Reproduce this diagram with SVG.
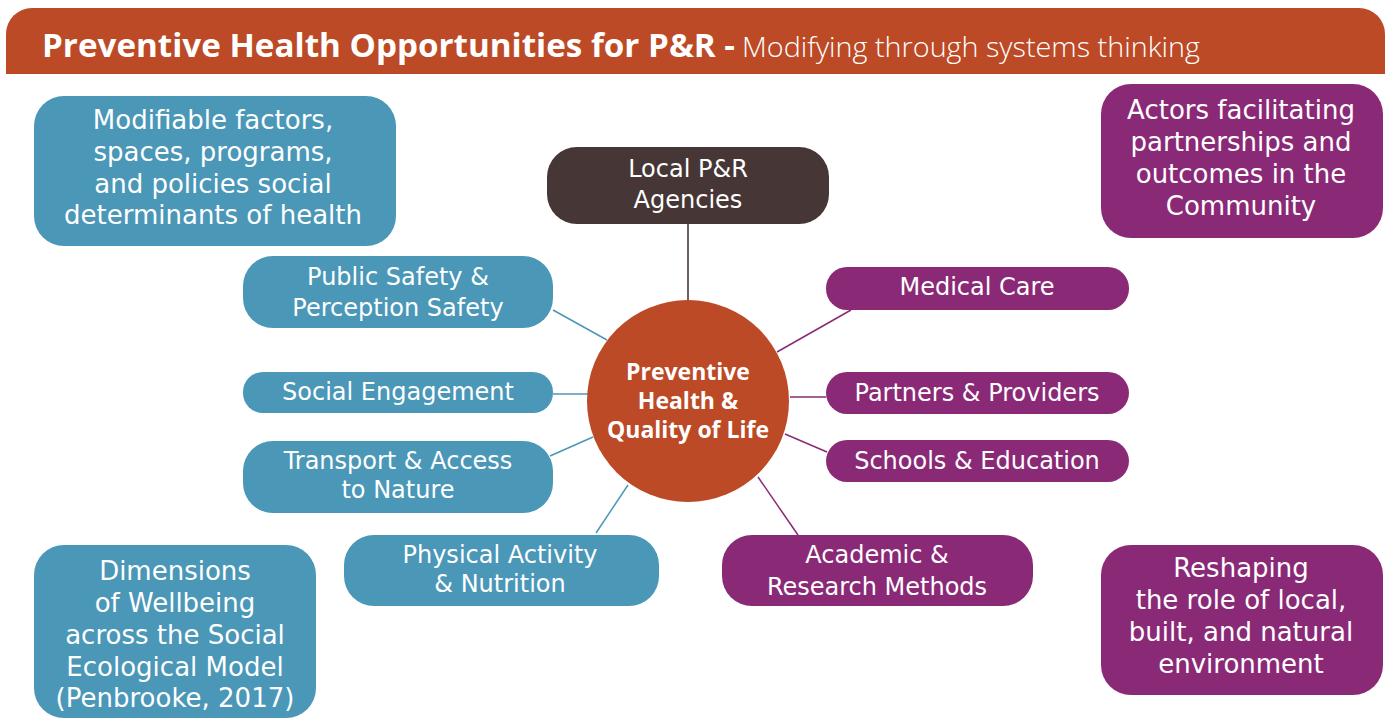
<svg xmlns="http://www.w3.org/2000/svg" width="1389" height="720" viewBox="0 0 1389 720">
<style>
.blue{fill:#4A97B8}
.purple{fill:#8A2A77}
.t{font-family:"DejaVu Sans","Liberation Sans",sans-serif;fill:#fff;text-anchor:middle;font-size:24px}
.big{font-size:26px}
.ctr{font-family:"Open Sans","Liberation Sans",sans-serif;font-weight:bold;fill:#fff;text-anchor:middle;font-size:23px}
.cb{stroke:#4A97B8;stroke-width:1.5;fill:none}
.cp{stroke:#8A2A77;stroke-width:1.5;fill:none}
.cd{stroke:#6E6060;stroke-width:2;fill:none}
</style>
<rect width="1389" height="720" fill="#fff"/>
<g id="header">
<path d="M6,74 V34 A26,26 0 0 1 32,8 H1359 A26,26 0 0 1 1385,34 V74 Z" fill="#BC4A26"/>
<text x="42" y="57" font-family="Open Sans,Liberation Sans,sans-serif" font-weight="bold" font-size="33" fill="#fff" textLength="693" lengthAdjust="spacingAndGlyphs">Preventive Health Opportunities for P&amp;R -</text>
<text x="742" y="57" font-family="Open Sans,Liberation Sans,sans-serif" font-weight="300" font-size="28" fill="#fff" textLength="458" lengthAdjust="spacingAndGlyphs">Modifying through systems thinking</text>
</g>
<g id="connectors">
<line class="cd" x1="688" y1="224" x2="688" y2="300"/>
<line class="cb" x1="553" y1="310" x2="607" y2="340"/>
<line class="cb" x1="553" y1="394" x2="588" y2="394"/>
<line class="cb" x1="550" y1="456" x2="593" y2="437"/>
<line class="cb" x1="596" y1="533" x2="628" y2="485"/>
<line class="cp" x1="851" y1="310" x2="777" y2="352"/>
<line class="cp" x1="826" y1="397" x2="790" y2="397"/>
<line class="cp" x1="827" y1="452" x2="785" y2="434"/>
<line class="cp" x1="798" y1="535" x2="758" y2="477"/>
</g>
<g id="modifiable">
<rect class="blue" x="34" y="96" width="362" height="150" rx="30"/>
<text class="t big" x="213" y="129">Modifiable factors,</text>
<text class="t big" x="213" y="161">spaces, programs,</text>
<text class="t big" x="213" y="193">and policies social</text>
<text class="t big" x="213" y="224">determinants of health</text>
</g>
<g id="actors">
<rect class="purple" x="1101" y="84" width="282" height="154" rx="30"/>
<text class="t big" x="1241" y="119">Actors facilitating</text>
<text class="t big" x="1241" y="151">partnerships and</text>
<text class="t big" x="1241" y="183">outcomes in the</text>
<text class="t big" x="1241" y="215">Community</text>
</g>
<g id="local">
<rect x="547" y="147" width="282" height="77" rx="30" fill="#463635"/>
<text class="t" x="688" y="177">Local P&amp;R</text>
<text class="t" x="688" y="208">Agencies</text>
</g>
<g id="center">
<circle cx="688" cy="401" r="101" fill="#BC4A26"/>
<text class="ctr" x="688" y="380">Preventive</text>
<text class="ctr" x="688" y="409">Health &amp;</text>
<text class="ctr" x="688" y="438">Quality of Life</text>
</g>
<g id="public-safety">
<rect class="blue" x="243" y="256" width="310" height="72" rx="30"/>
<text class="t" x="398" y="285">Public Safety &amp;</text>
<text class="t" x="398" y="316">Perception Safety</text>
</g>
<g id="social">
<rect class="blue" x="243" y="372" width="310" height="41" rx="20"/>
<text class="t" x="398" y="400">Social Engagement</text>
</g>
<g id="transport">
<rect class="blue" x="243" y="441" width="310" height="72" rx="30"/>
<text class="t" x="398" y="469">Transport &amp; Access</text>
<text class="t" x="398" y="498">to Nature</text>
</g>
<g id="physical">
<rect class="blue" x="344" y="535" width="315" height="71" rx="30"/>
<text class="t" x="500" y="563">Physical Activity</text>
<text class="t" x="500" y="592">&amp; Nutrition</text>
</g>
<g id="medical">
<rect class="purple" x="826" y="267" width="303" height="43" rx="21"/>
<text class="t" x="977" y="295">Medical Care</text>
</g>
<g id="partners">
<rect class="purple" x="826" y="372" width="303" height="42" rx="21"/>
<text class="t" x="977" y="401">Partners &amp; Providers</text>
</g>
<g id="schools">
<rect class="purple" x="826" y="440" width="303" height="42" rx="21"/>
<text class="t" x="977" y="469">Schools &amp; Education</text>
</g>
<g id="academic">
<rect class="purple" x="722" y="535" width="311" height="71" rx="30"/>
<text class="t" x="877" y="563">Academic &amp;</text>
<text class="t" x="877" y="595">Research Methods</text>
</g>
<g id="dimensions">
<rect class="blue" x="34" y="545" width="282" height="173" rx="30"/>
<text class="t big" x="175" y="580">Dimensions</text>
<text class="t big" x="175" y="612">of Wellbeing</text>
<text class="t big" x="175" y="644">across the Social</text>
<text class="t big" x="175" y="676">Ecological Model</text>
<text class="t big" x="175" y="707">(Penbrooke, 2017)</text>
</g>
<g id="reshaping">
<rect class="purple" x="1101" y="545" width="282" height="150" rx="30"/>
<text class="t big" x="1241" y="577">Reshaping</text>
<text class="t big" x="1241" y="609">the role of local,</text>
<text class="t big" x="1241" y="641">built, and natural</text>
<text class="t big" x="1241" y="673">environment</text>
</g>
</svg>
